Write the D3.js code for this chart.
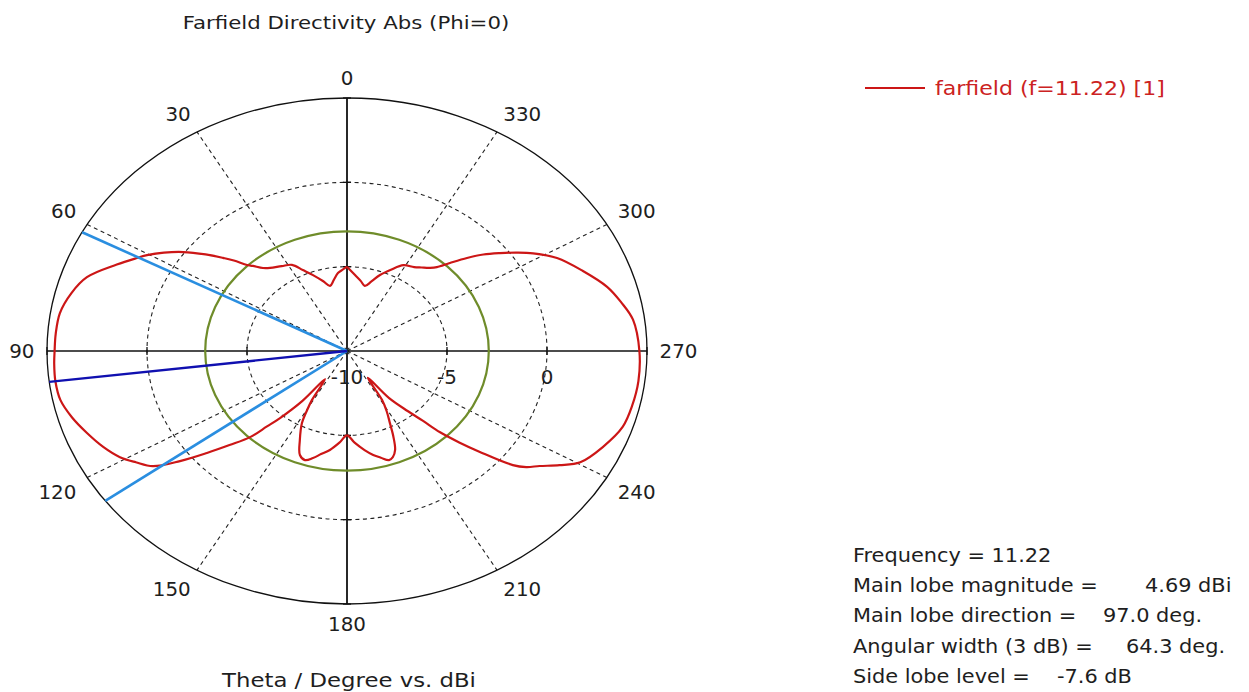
<!DOCTYPE html>
<html>
<head>
<meta charset="utf-8">
<script src="https://cdn.jsdelivr.net/npm/d3@7"></script>
<style>
  html, body { margin: 0; padding: 0; background: #fff; }
  svg { display: block; }
  text { font-family: "DejaVu Sans", Verdana, sans-serif; }
</style>
</head>
<body>
<svg id="chart" width="1249" height="692"></svg>
<script>
// Farfield directivity cut (Phi = 0), theta in degrees, directivity in dBi
const thetaDeg = [
  0, 3, 5.6, 9, 12.4, 16, 20.7, 24.7, 28.3, 33, 38, 40.5, 43, 44.4, 46.5, 48.3,
  51, 54.4, 57.5, 60.4, 62.3, 66, 71.4, 76, 81.1, 86, 90, 93, 97, 101.5, 106,
  110.5, 115, 119, 122, 125.1, 128, 130.8, 133.5, 136.5, 138.2, 139.9, 143,
  146.7, 148.9, 150.5, 152.2, 156, 159.1, 162, 165, 168, 171.7, 176, 180,
  184, 188.5, 192, 195, 198, 200, 202.3, 204.5, 206.6, 209, 211.1, 213.2,
  217, 220.5, 222.5, 224, 226, 228, 230.8, 232.5, 234.7, 237.5, 240.5, 246,
  251.9, 257, 263, 270, 277.4, 282, 286.3, 292, 297.7, 301.9, 304.5, 307.2,
  310, 312.6, 315.4, 317.9, 320, 323, 326, 331, 335.5, 339.9, 343.5, 347,
  350.5, 354.9, 360
];
const directivityDbi = [
  -5.0, -5.2, -5.36, -5.75, -6.05, -5.7, -5.19, -4.72, -4.2, -4.0, -3.75, -3.53, -3.1, -2.86, -2.2, -1.7,
  -0.9, 0.08, 0.85, 1.5, 1.86, 2.6, 3.72, 4.2, 4.53, 4.6, 4.62, 4.66, 4.69, 4.62, 4.3,
  3.88, 3.45, 2.98, 2.45, 1.87, 0.6, -0.75, -1.9, -2.96, -4.0, -4.8, -6.3,
  -8.0, -6.6, -5.9, -5.17, -4.2, -3.4, -3.2, -3.43, -3.75, -4.07, -4.55, -5.0,
  -4.55, -4.06, -3.7, -3.45, -3.2, -3.3, -3.66, -4.4, -5.2, -5.9, -6.6, -8.1,
  -6.5, -5.3, -4.4, -3.3, -2.2, -1.06, 0.7, 1.3, 1.8, 2.6, 3.4, 4.0,
  4.5, 4.62, 4.68, 4.62, 4.42, 4.0, 3.55, 2.7, 1.86, 0.96, 0.3, -0.4,
  -1.1, -1.85, -2.67, -3.3, -3.56, -3.8, -4.0, -4.18, -4.7, -5.2, -5.7, -6.04,
  -5.8, -5.48, -5.0
];

// Radial axis and angular grid
const radialDomain = [-10, 5];
const ringLevels = [-5, 0];              // dashed rings
const ringLabels = [-10, -5, 0];
const angleTicks = d3.range(0, 360, 30);

// Summary values
const mainLobeMag = 4.69;
const mainLobeDir = 97.0;
const beamEdges = [62.0, 126.3];         // 3 dB points, 64.3 deg apart
const sideLobeLevel = -7.6;
const sideLobeRing = mainLobeMag + sideLobeLevel;

const legendLabel = "farfield (f=11.22) [1]";
const titleText = "Farfield Directivity Abs (Phi=0)";
const axisTitle = "Theta / Degree vs. dBi";
const infoLabels = ["Frequency = 11.22", "Main lobe magnitude =", "Main lobe direction =", "Angular width (3 dB) =", "Side lobe level ="];
const infoValues = ["", "4.69 dBi", "97.0 deg.", "64.3 deg.", "-7.6 dB"];

const svg = d3.select("#chart");
const cx = 347, cy = 351, RX = 300, RY = 253;
const rX = d3.scaleLinear().domain(radialDomain).range([0, RX]).clamp(true);
const rY = d3.scaleLinear().domain(radialDomain).range([0, RY]).clamp(true);
const rad = d => d * Math.PI / 180;
const px = (t, v) => cx - rX(v) * Math.sin(rad(t));
const py = (t, v) => cy - rY(v) * Math.cos(rad(t));

const TEXT = "#1e1e1e";
const DASH = "4,3.5";

// ---- grid ----
const grid = svg.append("g");
grid.selectAll("line.spoke")
  .data(angleTicks.filter(a => a % 90 !== 0))
  .join("line")
  .attr("x1", cx).attr("y1", cy)
  .attr("x2", a => px(a, radialDomain[1])).attr("y2", a => py(a, radialDomain[1]))
  .attr("stroke", "#222").attr("stroke-width", 1.1).attr("stroke-dasharray", DASH);

grid.selectAll("ellipse.ring")
  .data(ringLevels)
  .join("ellipse")
  .attr("cx", cx).attr("cy", cy)
  .attr("rx", v => rX(v)).attr("ry", v => rY(v))
  .attr("fill", "none").attr("stroke", "#222").attr("stroke-width", 1.1).attr("stroke-dasharray", DASH);

grid.append("ellipse")
  .attr("cx", cx).attr("cy", cy)
  .attr("rx", rX(radialDomain[1])).attr("ry", rY(radialDomain[1]))
  .attr("fill", "none").attr("stroke", "#111").attr("stroke-width", 1.3);

// solid axes through the centre
[0, 90].forEach(a => {
  grid.append("line")
    .attr("x1", px(a, radialDomain[1])).attr("y1", py(a, radialDomain[1]))
    .attr("x2", px(a + 180, radialDomain[1])).attr("y2", py(a + 180, radialDomain[1]))
    .attr("stroke", "#111").attr("stroke-width", a === 0 ? 1.8 : 1.4);
});

// tick marks where rings cross the axes
const tickLen = 4;
[0, 90, 180, 270].forEach(a => {
  ringLevels.concat([radialDomain[1]]).forEach(v => {
    const x = px(a, v), y = py(a, v);
    const horiz = a % 180 === 0;
    grid.append("line")
      .attr("x1", horiz ? x - tickLen : x).attr("x2", horiz ? x + tickLen : x)
      .attr("y1", horiz ? y : y - tickLen).attr("y2", horiz ? y : y + tickLen)
      .attr("stroke", "#111").attr("stroke-width", 1.3);
  });
});

// side lobe level ring
svg.append("ellipse")
  .attr("cx", cx).attr("cy", cy)
  .attr("rx", rX(sideLobeRing)).attr("ry", rY(sideLobeRing))
  .attr("fill", "none").attr("stroke", "#6f8c2a").attr("stroke-width", 2.2);

// ---- pattern curve ----
const pattern = thetaDeg.map((t, i) => ({ t, v: directivityDbi[i] }));
const line = d3.line().x(d => px(d.t, d.v)).y(d => py(d.t, d.v))
  .curve(d3.curveCatmullRom.alpha(0.5));
svg.append("path")
  .datum(pattern)
  .attr("d", line)
  .attr("fill", "none").attr("stroke", "#cc1616").attr("stroke-width", 2.2)
  .attr("stroke-linejoin", "round");

// beam width and main lobe direction
svg.selectAll("line.beam")
  .data(beamEdges)
  .join("line")
  .attr("x1", cx).attr("y1", cy)
  .attr("x2", a => px(a, radialDomain[1])).attr("y2", a => py(a, radialDomain[1]))
  .attr("stroke", "#2a8ee0").attr("stroke-width", 2.6);
svg.append("line")
  .attr("x1", cx).attr("y1", cy)
  .attr("x2", px(mainLobeDir, radialDomain[1])).attr("y2", py(mainLobeDir, radialDomain[1]))
  .attr("stroke", "#1010b0").attr("stroke-width", 2.4);

// ---- text ----
function place(sel, x, y, sx) {
  sel.attr("transform", `translate(${x},${y}) scale(${sx},1)`);
}
function fitWidth(sel, width) {
  return width / sel.node().getComputedTextLength();
}

// common horizontal scale for the numeric labels
const probeTick = svg.append("text").text("300").attr("font-size", 19.5);
const TICK_SX = fitWidth(probeTick, 38);
probeTick.remove();

// angle labels sit outside the outer ring, corner toward the plot
const gap = 12.5, labelH = 15;
angleTicks.forEach(a => {
  const t = svg.append("text").text(a)
    .attr("font-size", 19.5).attr("fill", TEXT)
    .attr("text-anchor", "middle");
  const w = t.node().getComputedTextLength() * TICK_SX;
  const s = Math.sin(rad(a)), c = Math.cos(rad(a));
  const ax = cx - (RX + gap) * s, ay = cy - (RY + gap) * c;
  const ox = Math.abs(s) > 0.01 ? -Math.sign(s) * w / 2 : 0;
  const oy = Math.abs(c) > 0.01 ? -Math.sign(c) * labelH / 2 : 0;
  place(t, ax + ox, ay + oy + 7.3, TICK_SX);
});

// radial level labels along the 270 deg axis
ringLabels.forEach(v => {
  const t = svg.append("text").text(v)
    .attr("font-size", 19.5).attr("fill", TEXT).attr("text-anchor", "middle");
  place(t, px(270, v), cy + 33, TICK_SX);
});

// title and axis title
const title = svg.append("text").text(titleText)
  .attr("font-size", 18).attr("fill", TEXT).attr("text-anchor", "middle");
place(title, 346, 29, fitWidth(title, 327));

const xt = svg.append("text").text(axisTitle)
  .attr("font-size", 19).attr("fill", TEXT).attr("text-anchor", "middle");
place(xt, 349, 687, fitWidth(xt, 254));

// legend
svg.append("line")
  .attr("x1", 865).attr("x2", 925).attr("y1", 88).attr("y2", 88)
  .attr("stroke", "#cc1616").attr("stroke-width", 2.2);
const lg = svg.append("text").text(legendLabel)
  .attr("font-size", 19).attr("fill", "#cc2222");
place(lg, 935, 95, fitWidth(lg, 230));

// summary block
const infoY = [562, 592, 622, 653, 683];
const valueX = [0, 1145, 1103, 1126, 1057];
const probe = svg.append("text").text(infoLabels[1]).attr("font-size", 19.5);
const infoSX = fitWidth(probe, 245);
probe.remove();
infoLabels.forEach((s, i) => {
  const t = svg.append("text").text(s).attr("font-size", 19.5).attr("fill", TEXT);
  place(t, 853, infoY[i], infoSX);
  if (infoValues[i]) {
    const v = svg.append("text").text(infoValues[i]).attr("font-size", 19.5).attr("fill", TEXT);
    place(v, valueX[i], infoY[i], infoSX);
  }
});
</script>
</body>
</html>
